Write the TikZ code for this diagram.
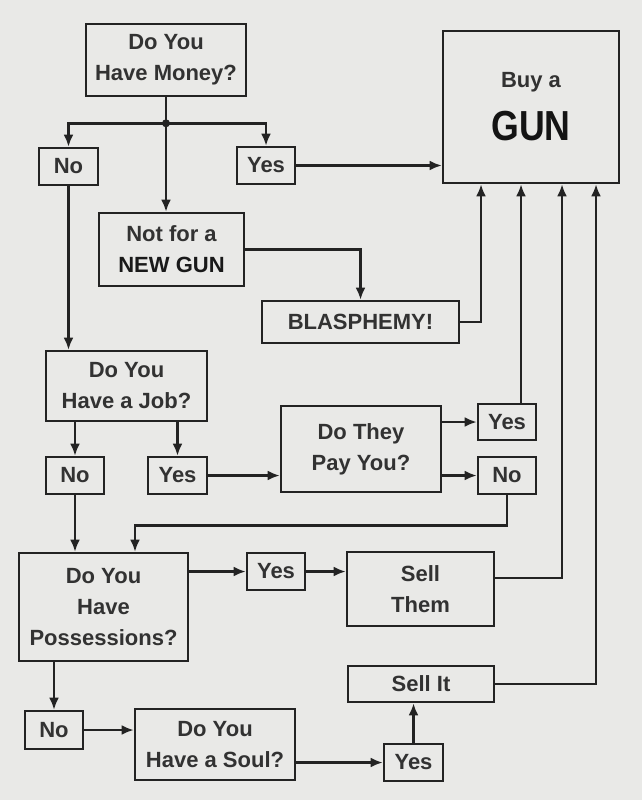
\documentclass[tikz,border=0pt]{standalone}
\usepackage{fontspec}
\setmainfont{Liberation Sans}
\usepackage{tikz}
\usetikzlibrary{arrows.meta,positioning,calc}
\definecolor{paper}{RGB}{233,233,231}
\definecolor{ink}{RGB}{35,35,35}
\definecolor{label}{RGB}{50,50,50}
\tikzset{
  box/.style={draw=ink,line width=2.6pt,fill=paper,align=center,inner sep=0pt,text=label,
    font=\fontsize{22}{31}\selectfont\bfseries},
  sz/.style 2 args={minimum width=#1pt,minimum height=#2pt},
  arr/.style={-{Latex[length=12pt,width=10pt]},draw=ink,line width=2.4pt},
  wire/.style={draw=ink,line width=2.4pt},
}

\begin{document}
\begin{tikzpicture}[x=1pt,y=-1pt]
  \fill[paper] (0,0) rectangle (642,800);
  \useasboundingbox (0,0) rectangle (642,800);
  % boxes
  \node[box,sz={160}{72}] (money) at (166,60) {Do You\\Have Money?};
  \node[box,sz={59}{37}] (no1) at (68.5,166.5) {No};
  \node[box,sz={58}{37}] (yes1) at (266,165.5) {Yes};
  \node[box,sz={145}{73}] (notnew) at (171.5,249.5) {Not for a\\{\color{black!90}NEW GUN}};
  \node[box,sz={197}{42}] (blas) at (360.5,322) {BLASPHEMY!};
  \node[box,sz={176}{152}] (gun) at (531,107)
    {Buy a\\[18pt]{\fontsize{42}{42}\selectfont\color{black!92}\scalebox{0.85}[1]{GUN}}};
  \node[box,sz={161}{70}] (job) at (126.5,386) {Do You\\Have a Job?};
  \node[box,sz={58}{37}] (no2) at (75,475.5) {No};
  \node[box,sz={59}{37}] (yes2) at (177.5,475.5) {Yes};
  \node[box,sz={160}{86}] (pay) at (361,449) {Do They\\Pay You?};
  \node[box,sz={58}{36}] (yes3) at (507,422) {Yes};
  \node[box,sz={58}{37}] (no3) at (507,475.5) {No};
  \node[box,sz={169}{108}] (poss) at (103.5,607) {Do You\\Have\\Possessions?};
  \node[box,sz={58}{37}] (yes4) at (276,571.5) {Yes};
  \node[box,sz={147}{74}] (them) at (420.5,589) {Sell\\Them};
  \node[box,sz={58}{38}] (no5) at (54,730) {No};
  \node[box,sz={160}{71}] (soul) at (215,744.5) {Do You\\Have a Soul?};
  \node[box,sz={59}{37}] (yes6) at (413.5,762.5) {Yes};
  \node[box,sz={146}{36}] (sellit) at (421,684) {Sell It};
  % money split
  \coordinate (split) at ([yshift=-26pt]money.south);
  \draw[wire] (money.south) -- (split);
  \fill[ink] (split) circle (4pt);
  \draw[arr] (split) -| (no1);
  \draw[arr] (split) -| (yes1);
  \draw[arr] (split) -- (split |- notnew.north);
  \draw[arr] (yes1) -- (yes1 -| gun.west);
  \draw[arr] (notnew) -| (blas);
  \draw[arr] (blas.east) -| ([xshift=-50pt]gun.south);
  % job
  \draw[arr] (no1) -- (no1 |- job.north);
  \draw[arr] (job.south -| no2) -- (no2);
  \draw[arr] (job.south -| yes2) -- (yes2);
  \draw[arr] (yes2) -- (yes2 -| pay.west);
  \draw[arr] (pay.east |- yes3) -- (yes3);
  \draw[arr] (pay.east |- no3) -- (no3);
  \draw[arr] ([xshift=14pt]yes3.north) -- ([xshift=14pt]yes3.north |- gun.south);
  \draw[arr] (no3.south) -- ++(0,30) -| ([xshift=31.5pt]poss.north);
  % possessions
  \draw[arr] (no2) -- (no2 |- poss.north);
  \draw[arr] (poss.east |- yes4) -- (yes4);
  \draw[arr] (yes4) -- (yes4 -| them.west);
  \draw[arr] ([yshift=11pt]them.east) -| ([xshift=31pt]gun.south);
  % soul
  \draw[arr] (poss.south -| no5) -- (no5);
  \draw[arr] (no5) -- (no5 -| soul.west);
  \draw[arr] (soul.east |- yes6) -- (yes6);
  \draw[arr] (yes6) -- (yes6 |- sellit.south);
  \draw[arr] (sellit) -| ([xshift=65pt]gun.south);
\end{tikzpicture}
\end{document}
